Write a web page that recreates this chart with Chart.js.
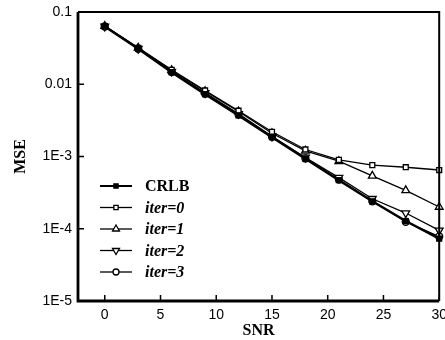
<!DOCTYPE html>
<html><head><meta charset="utf-8">
<script src="https://cdn.jsdelivr.net/npm/chart.js@4.4.0/dist/chart.umd.min.js"></script>
<style>html,body{margin:0;padding:0;background:#fff}#w{width:445px;height:340px}</style>
</head><body><div id="w"><canvas id="c" width="445" height="340"></canvas></div>
<script>
const snr = [0, 3, 6, 9, 12, 15, 18, 21, 24, 27, 30];
const crlb  = [0.063, 0.031, 0.0147, 0.0073, 0.0037, 0.00185, 0.00093, 0.00047, 0.00024, 0.000128, 0.000073];
const iter0 = [0.064, 0.032, 0.0158, 0.0082, 0.0043, 0.0022, 0.00125, 0.0009, 0.00076, 0.00071, 0.00065];
const iter1 = [0.064, 0.032, 0.0156, 0.0080, 0.0042, 0.0021, 0.0012, 0.00086, 0.00054, 0.00034, 0.0002];
const iter2 = [0.063, 0.031, 0.0150, 0.0076, 0.0039, 0.0019, 0.00097, 0.00051, 0.00026, 0.000165, 0.000095];
const iter3 = [0.063, 0.031, 0.0148, 0.0074, 0.0038, 0.00187, 0.00094, 0.00048, 0.00024, 0.000125, 0.000078];
const xTicks = [0, 5, 10, 15, 20, 25, 30];
const yTicks = [0.1, 0.01, 0.001, 0.0001, 0.00001];
const yTickLabels = ["0.1", "0.01", "1E-3", "1E-4", "1E-5"];
const seriesNames = ["CRLB", "iter=0", "iter=1", "iter=2", "iter=3"];

const styles = [
  {pointStyle:'rect', fill:'#000', bw:2.5, r:3.5, rot:0},
  {pointStyle:'rect', fill:'#fff', bw:1.3, r:3.5, rot:0},
  {pointStyle:'triangle', fill:'#fff', bw:1.3, r:4.5, rot:0},
  {pointStyle:'triangle', fill:'#fff', bw:1.3, r:4.5, rot:180},
  {pointStyle:'circle', fill:'#fff', bw:1.3, r:3.5, rot:0}
];
const vals = [crlb, iter0, iter1, iter2, iter3];
const datasets = vals.map((v,i)=>({
  label: seriesNames[i],
  data: v.map((y,j)=>({x:snr[j], y:y})),
  borderColor:'#000', backgroundColor: styles[i].fill,
  borderWidth: styles[i].bw, pointStyle: styles[i].pointStyle,
  pointRadius: styles[i].r, pointRotation: styles[i].rot,
  pointBorderWidth: 1.3, pointBorderColor:'#000', pointBackgroundColor: styles[i].fill,
  tension:0, fill:false, clip:false
}));

const decor = {
  id:'decor',
  afterDatasetsDraw(chart){
    const ctx = chart.ctx, a = chart.chartArea;
    const xs = chart.scales.x, ys = chart.scales.y;
    ctx.save();
    ctx.strokeStyle = '#000';
    ctx.lineWidth = 2;
    ctx.beginPath();
    ctx.moveTo(a.left, a.top); ctx.lineTo(a.right, a.top); ctx.lineTo(a.right, a.bottom);
    ctx.stroke();
    ctx.lineWidth = 2.8;
    ctx.beginPath();
    ctx.moveTo(a.left, a.top); ctx.lineTo(a.left, a.bottom); ctx.lineTo(a.right, a.bottom);
    ctx.stroke();
    ctx.lineWidth = 1.5;
    ctx.beginPath();
    xTicks.forEach(t=>{const px = xs.getPixelForValue(t); ctx.moveTo(px, a.bottom); ctx.lineTo(px, a.bottom-6);});
    yTicks.forEach(t=>{const py = ys.getPixelForValue(t); ctx.moveTo(a.left, py); ctx.lineTo(a.left+6, py);});
    ctx.stroke();
    // legend
    const lx0 = a.left + 22, lx1 = a.left + 54, mx = a.left + 38, tx = a.left + 67;
    let ly = 186;
    seriesNames.forEach((n,i)=>{
      ctx.lineWidth = i===0 ? 2 : 1.3;
      ctx.beginPath(); ctx.moveTo(lx0, ly); ctx.lineTo(lx1, ly); ctx.stroke();
      ctx.fillStyle = styles[i].fill; ctx.strokeStyle = '#000'; ctx.lineWidth = 1.3;
      Chart.helpers.drawPoint(ctx, {pointStyle: styles[i].pointStyle, radius: styles[i].r-0.5, rotation: styles[i].rot, borderWidth:1.3}, mx, ly);
      ctx.fillStyle = '#000';
      ctx.font = (i===0 ? 'bold ' : 'italic bold ') + '16px "Liberation Serif"';
      ctx.textBaseline = 'middle'; ctx.textAlign = 'left';
      ctx.fillText(n, tx, ly+1);
      ly += 21.5;
    });
    ctx.restore();
  }
};

new Chart(document.getElementById('c'), {
  type:'line',
  data:{datasets},
  plugins:[decor],
  options:{
    responsive:false, animation:false,
    layout:{padding:{top:12, right:3, left:0, bottom:0}},
    plugins:{legend:{display:false}, tooltip:{enabled:false}},
    scales:{
      x:{type:'linear', min:-2.4, max:30,
        afterBuildTicks(s){ s.ticks = xTicks.map(v=>({value:v})); },
        afterFit(s){ s.height = 39; s.paddingRight = 0; s.paddingLeft = 0; },
        grid:{display:false, drawTicks:false}, border:{display:false},
        ticks:{color:'#000', font:{family:'"Liberation Sans"', size:14}, padding:6, maxRotation:0},
        title:{display:true, text:'SNR', color:'#000', font:{family:'"Liberation Serif"', size:16, weight:'bold'}, padding:{top:0,bottom:0}}
      },
      y:{type:'logarithmic', min:1e-5, max:0.1,
        afterBuildTicks(s){ s.ticks = yTicks.map(v=>({value:v})); },
        afterFit(s){ s.width = 78; s.paddingTop = 0; s.paddingBottom = 0; },
        grid:{display:false, drawTicks:false}, border:{display:false},
        ticks:{color:'#000', font:{family:'"Liberation Sans"', size:14}, padding:6,
          callback(v){ const i = yTicks.findIndex(t=>Math.abs(Math.log10(t)-Math.log10(v))<1e-6); return i>=0 ? yTickLabels[i] : ''; }},
        title:{display:true, text:'MSE', color:'#000', font:{family:'"Liberation Serif"', size:16, weight:'bold'}, padding:{top:11,bottom:0}}
      }
    }
  }
});
</script></body></html>
